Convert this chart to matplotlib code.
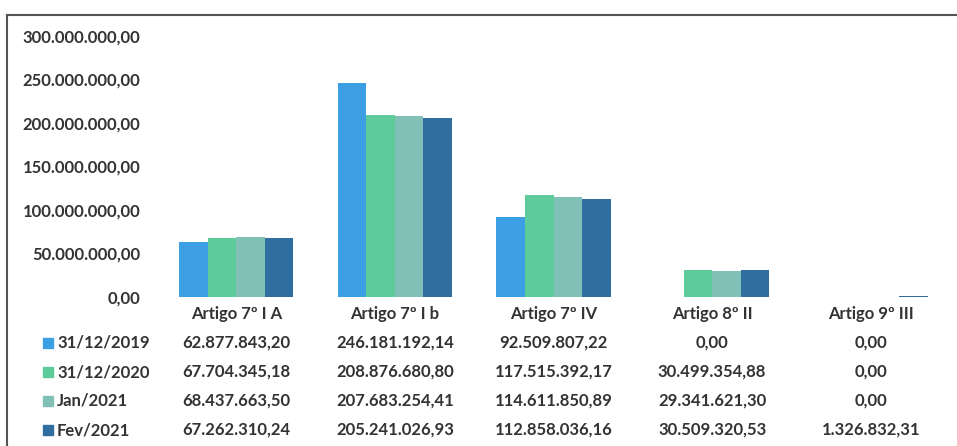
import numpy as np
import matplotlib.pyplot as plt
import matplotlib.transforms as mtransforms
from matplotlib.lines import Line2D
from matplotlib.patches import Rectangle

plt.rcParams['font.family'] = ['Lato', 'DejaVu Sans']

# Data
categories = ['Artigo 7º I A', 'Artigo 7º I b', 'Artigo 7º IV', 'Artigo 8º II', 'Artigo 9º III']
series_names = ['31/12/2019', '31/12/2020', 'Jan/2021', 'Fev/2021']
v2019 = [62877843.20, 246181192.14, 92509807.22, 0.00, 0.00]
v2020 = [67704345.18, 208876680.80, 117515392.17, 30499354.88, 0.00]
vjan21 = [68437663.50, 207683254.41, 114611850.89, 29341621.30, 0.00]
vfev21 = [67262310.24, 205241026.93, 112858036.16, 30509320.53, 1326832.31]
series = [v2019, v2020, vjan21, vfev21]
colors = ['#3c9fe4', '#5ecb9b', '#80c0b6', '#2f6e9e']
yticks = [0, 50e6, 100e6, 150e6, 200e6, 250e6, 300e6]

txt_color = '#333333'
fs = 12
W, H = 957, 446


def br(v):
    # brazilian number format
    s = f'{v:,.2f}'
    return s.replace(',', '#').replace('.', ',').replace('#', '.')


fig = plt.figure(figsize=(W / 100, H / 100), dpi=100)
ax = fig.add_axes([157 / W, (H - 297) / H, (950 - 157) / W, (297 - 36) / H])

x = np.arange(len(categories))
bw = 0.18
for i, (vals, c) in enumerate(zip(series, colors)):
    ax.bar(x + (i - 1.5) * bw, vals, width=bw, color=c, label=series_names[i])

ax.set_xlim(-0.5, len(categories) - 0.5)
ax.set_ylim(0, 300e6)
ax.set_yticks(yticks)
ax.set_yticklabels([br(t) for t in yticks], fontsize=fs, fontweight='bold', color=txt_color)
ax.tick_params(axis='y', length=0, pad=12)
ax.set_xticks([])
for s in ax.spines.values():
    s.set_visible(False)

# data table below the plot
tr = mtransforms.blended_transform_factory(ax.transData, fig.transFigure)
row_y = [314, 343, 372, 401, 430]
for j, cat in enumerate(categories):
    fig.text(x[j], 1 - row_y[0] / H, cat, transform=tr, ha='center', va='center',
             fontsize=fs, fontweight='bold', color=txt_color)
for i, vals in enumerate(series):
    yy = 1 - row_y[i + 1] / H
    for j, v in enumerate(vals):
        fig.text(x[j], yy, br(v), transform=tr, ha='center', va='center',
                 fontsize=fs, fontweight='bold', color=txt_color)
    fig.add_artist(Rectangle((43 / W, yy - 5 / H), 10 / W, 10 / H,
                             transform=fig.transFigure, color=colors[i]))
    fig.text(57 / W, yy, series_names[i], ha='left', va='center',
             fontsize=fs, fontweight='bold', color=txt_color)

# frame of the scanned chart
fig.add_artist(Line2D([7.5 / W, 7.5 / W], [0, 1 - 15 / H], color='#555555', lw=1.5))
fig.add_artist(Line2D([7.5 / W, 1], [1 - 15 / H, 1 - 15 / H], color='#555555', lw=1.5))

fig.savefig('out.png', dpi=100)
